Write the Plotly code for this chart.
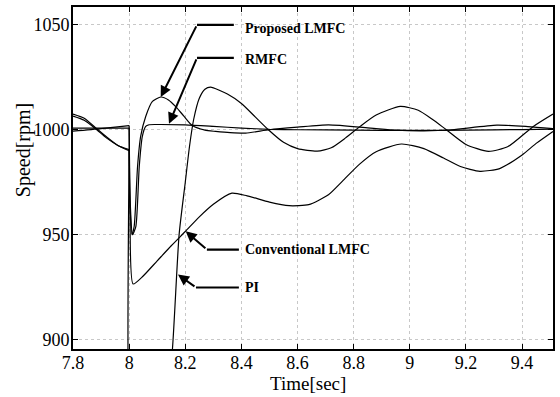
import plotly.graph_objects as go

# ---- data ----
# each series: before the step at t = 8 s, and from the step on
t_pi_pre = [7.8, 7.84, 7.88, 7.92, 7.96, 8.0]
v_pi_pre = [1007.5, 1005.5, 1001, 996.5, 992.5, 990.5]
t_pi = [8.0, 8.0, 8.03, 8.07, 8.11, 8.154, 8.178, 8.2, 8.215, 8.23,
        8.25, 8.27, 8.29, 8.35, 8.4, 8.45, 8.5, 8.55, 8.6, 8.67, 8.72, 8.77, 8.823, 8.88, 8.966,
        9.03, 9.08, 9.13, 9.2, 9.28, 9.35, 9.44, 9.51]
v_pi = [990.5, 860, 830, 820, 835, 895, 950, 975, 992, 1005,
        1015, 1019.3, 1020.3, 1017, 1012.5, 1006, 999.5, 994, 991, 989.8, 991.4, 996, 1001.6, 1007, 1011.1,
        1009.3, 1005, 1000, 993, 989.7, 992, 1001.6, 1007.5]

t_conv_pre = [7.8, 7.84, 7.88, 7.92, 7.96, 8.0]
v_conv_pre = [1006.5, 1004.5, 1000.5, 996, 992.5, 990]
t_conv = [8.0, 8.003, 8.014, 8.05, 8.1, 8.15, 8.2, 8.25, 8.3, 8.366,
          8.42, 8.5, 8.57, 8.64, 8.71, 8.76, 8.82, 8.88, 8.97, 9.05, 9.12, 9.18, 9.25, 9.32,
          9.4, 9.45, 9.51]
v_conv = [990, 960, 926.5, 930.3, 937.5, 944.7, 951.5, 958.5, 964.5, 969.8,
          968.5, 965.5, 963.8, 964.3, 969, 975.5, 983.5, 989.5, 993.2, 991, 986.5, 982.5, 980.2, 981.5,
          988, 993.5, 999.2]

t_prop_pre = [7.8, 7.9, 8.0]
v_prop_pre = [1000.8, 1000.8, 1000.8]
t_prop = [8.0, 8.003, 8.01, 8.018, 8.03, 8.041, 8.059, 8.083, 8.113, 8.14, 8.166, 8.195,
          8.225, 8.27, 8.308, 8.36, 8.415, 8.5, 8.6, 8.71, 8.86, 8.95, 9.05, 9.15, 9.31, 9.42, 9.51]
v_prop = [1000.8, 965, 950, 954, 982.5, 996.8, 1006.3, 1013.5, 1015.6, 1014.2, 1011, 1006.5,
          1002, 999.8, 999.2, 998.6, 998.4, 1000, 1001.2, 1002.3, 1000.8, 999.8, 999.5, 1000, 1002.2, 1001.5, 1000.5]

t_rmfc_pre = [7.8, 7.9, 8.0]
v_rmfc_pre = [999.3, 1000.5, 1002]
t_rmfc = [8.0, 8.004, 8.012, 8.024, 8.036, 8.047, 8.059, 8.071, 8.1, 8.2, 8.3, 8.4,
          8.5, 8.6, 8.8, 9.0, 9.2, 9.4, 9.51]
v_rmfc = [1002, 965, 950, 954, 982.5, 996.8, 1001.6, 1002.4, 1002.5, 1002.3, 1001.6, 1000.8,
          1000.2, 1000, 999.8, 999.7, 999.8, 1000.1, 1000.3]

x_ticks = [7.8, 8.0, 8.2, 8.4, 8.6, 8.8, 9.0, 9.2, 9.4]
x_labels = ["7.8", "8", "8.2", "8.4", "8.6", "8.8", "9", "9.2", "9.4"]
y_ticks = [900, 950, 1000, 1050]
y_labels = ["900", "950", "1000", "1050"]

labels = ["Proposed LMFC", "RMFC", "Conventional LMFC", "PI"]
# arrow head (x, y), bend point (x, y), end of horizontal leader x, text y
arrow_head = [(8.1127, 1015.6), (8.142, 1002.9), (8.2015, 951.6), (8.174, 931.0)]
arrow_bend = [(8.2417, 1050.0), (8.2417, 1034.3), (8.277, 942.9), (8.238, 924.8)]
leader_end = [8.373, 8.373, 8.391, 8.391]
text_y = [1048.3, 1033.3, 942.9, 924.8]
text_x = 8.405

FONT = "Liberation Serif"

fig = go.Figure()
series = [(t_pi_pre, v_pi_pre), (t_pi, v_pi), (t_conv_pre, v_conv_pre), (t_conv, v_conv),
          (t_prop_pre, v_prop_pre), (t_prop, v_prop), (t_rmfc_pre, v_rmfc_pre), (t_rmfc, v_rmfc)]
for tt, vv in series:
    fig.add_trace(go.Scatter(x=tt, y=vv, mode="lines",
                             line=dict(color="black", width=1.2, shape="spline", smoothing=0.6),
                             showlegend=False, hoverinfo="skip"))

for lab, (hx, hy), (bx, by), lx, ty in zip(labels, arrow_head, arrow_bend, leader_end, text_y):
    fig.add_annotation(x=hx, y=hy, ax=bx, ay=by, axref="x", ayref="y", xref="x", yref="y",
                       text="", showarrow=True, arrowhead=2, arrowsize=1.1, arrowwidth=2,
                       arrowcolor="black", standoff=0, startstandoff=0)
    fig.add_shape(type="line", x0=bx, y0=by, x1=lx, y1=by, xref="x", yref="y",
                  line=dict(color="black", width=2.2))
    fig.add_annotation(x=text_x, y=ty, xref="x", yref="y", text="<b>" + lab + "</b>",
                       showarrow=False, xanchor="left", yanchor="middle",
                       font=dict(family=FONT, size=14, color="black"))

# axis titles
fig.add_annotation(x=0.49, y=-0.1, xref="paper", yref="paper", text="Time[sec]",
                   showarrow=False, xanchor="center", yanchor="middle",
                   font=dict(family=FONT, size=19, color="black"))
fig.add_annotation(x=-0.103, y=0.58, xref="paper", yref="paper", text="Speed[rpm]",
                   showarrow=False, textangle=-90, xanchor="center", yanchor="middle",
                   font=dict(family=FONT, size=20, color="black"))

axis_common = dict(showline=True, linecolor="black", linewidth=2, mirror="allticks",
                   ticks="inside", ticklen=5, tickwidth=1, tickcolor="black",
                   showgrid=True, gridcolor="#c8c8c8", griddash="dot", gridwidth=1,
                   zeroline=False, tickfont=dict(family=FONT, size=18, color="black"))

fig.update_xaxes(range=[7.8, 9.51], tickvals=x_ticks, ticktext=x_labels,
                 ticklabelstandoff=-4, **axis_common)
fig.update_yaxes(range=[895.5, 1058.5], tickvals=y_ticks, ticktext=y_labels,
                 ticklabelstandoff=-2, **axis_common)

fig.update_layout(width=560, height=397, margin=dict(l=73, r=5, t=7, b=48),
                  plot_bgcolor="white", paper_bgcolor="white")

fig.write_html("out.html")
